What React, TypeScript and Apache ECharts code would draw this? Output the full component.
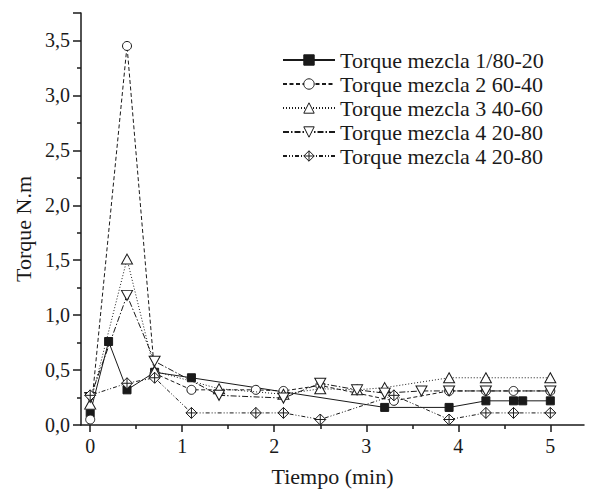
import React, { useEffect, useRef } from "react";
import * as echarts from "echarts";

// Tiempo (min) and Torque (N.m) values
const s1X = [0, 0.2, 0.4, 0.7, 1.1, 3.2, 3.9, 4.3, 4.6, 4.7, 5.0];
const s1Y = [0.11, 0.76, 0.32, 0.48, 0.43, 0.16, 0.16, 0.22, 0.22, 0.22, 0.22];

const s2X = [0, 0.4, 0.7, 1.1, 1.8, 2.1, 2.5, 3.3, 3.9, 4.3, 4.6, 5.0];
const s2Y = [0.05, 3.45, 0.47, 0.32, 0.32, 0.31, 0.36, 0.22, 0.31, 0.31, 0.31, 0.31];

const s3X = [0, 0.4, 0.7, 1.4, 2.1, 2.5, 2.9, 3.2, 3.9, 4.3, 5.0];
const s3Y = [0.19, 1.51, 0.49, 0.33, 0.28, 0.33, 0.32, 0.34, 0.43, 0.43, 0.43];

const s4X = [0, 0.4, 0.7, 1.4, 2.1, 2.5, 2.9, 3.2, 3.6, 3.9, 4.3, 5.0];
const s4Y = [0.25, 1.18, 0.58, 0.27, 0.245, 0.38, 0.32, 0.29, 0.31, 0.31, 0.31, 0.31];

const s5X = [0, 0.4, 0.7, 1.1, 1.8, 2.1, 2.5, 3.3, 3.9, 4.3, 4.6, 5.0];
const s5Y = [0.27, 0.38, 0.43, 0.11, 0.11, 0.11, 0.05, 0.27, 0.05, 0.11, 0.11, 0.11];

const legendLabels = [
  "Torque mezcla 1/80-20",
  "Torque mezcla 2 60-40",
  "Torque mezcla 3 40-60",
  "Torque mezcla 4 20-80",
  "Torque mezcla 4 20-80",
];

const xMajorTicks = [0, 1, 2, 3, 4, 5];
const xMinorTicks = [0.5, 1.5, 2.5, 3.5, 4.5];

const FONT = "Liberation Serif";
const INK = "#1a1a1a";

function pairs(xs: number[], ys: number[]) {
  return xs.map((x, i) => [x, ys[i]]);
}

export default function App() {
  const ref = useRef<HTMLDivElement>(null);
  useEffect(() => {
    if (!ref.current) return;
    const chart = echarts.init(ref.current, undefined, { renderer: "svg" });
    const seriesDefs = [
      { x: s1X, y: s1Y, symbol: "rect", size: 8, fill: INK, dash: "solid" as any },
      { x: s2X, y: s2Y, symbol: "circle", size: 9, fill: "#fff", dash: [4, 2.5] },
      { x: s3X, y: s3Y, symbol: "path://M10,0 L20,17 L0,17 Z", size: [11, 10], fill: "#fff", dash: [1, 2] },
      { x: s4X, y: s4Y, symbol: "path://M0,0 L20,0 L10,17 Z", size: [11, 10], fill: "#fff", dash: [6, 2, 1.5, 2] },
      {
        x: s5X,
        y: s5Y,
        symbol: "path://M10,0 L20,10 L10,20 L0,10 Z M10,0 L10,20 M0,10 L20,10",
        size: 11,
        fill: "#fff",
        dash: [4, 2, 1, 2, 1, 2],
      },
    ];
    const names = ["m1", "m2", "m3", "m4", "m5"];
    chart.setOption({
      animation: false,
      backgroundColor: "#fff",
      textStyle: { fontFamily: FONT, color: INK },
      grid: { left: 81, right: 5, top: 13, bottom: 65 },
      legend: {
        orient: "vertical",
        left: 282,
        top: 49,
        padding: 0,
        itemWidth: 52,
        itemHeight: 13,
        itemGap: 2,
        data: names.map((n, i) => ({
          name: n,
          itemStyle: { color: seriesDefs[i].fill, borderColor: INK, borderWidth: 1 },
        })),
        formatter: (n: string) => legendLabels[names.indexOf(n)],
        textStyle: { fontFamily: FONT, fontSize: 22, color: INK, lineHeight: 22 },
        selectedMode: false,
      },
      xAxis: [
        {
          type: "value",
          min: -0.1,
          max: 5.366,
          name: "Tiempo (min)",
          nameLocation: "middle",
          nameGap: 40,
          nameTextStyle: { fontFamily: FONT, fontSize: 22, color: INK },
          axisLine: { show: true, onZero: false, lineStyle: { color: INK, width: 1.5 } },
          axisTick: { show: true, inside: false, length: 7, customValues: xMajorTicks, lineStyle: { color: INK, width: 1.5 } },
          axisLabel: {
            customValues: xMajorTicks,
            margin: 11,
            fontFamily: FONT,
            fontSize: 20,
            color: INK,
            formatter: (v: number) => String(Math.round(v)),
          },
          splitLine: { show: false },
        },
        {
          type: "value",
          min: -0.1,
          max: 5.366,
          position: "bottom",
          axisLine: { show: false },
          axisTick: { show: true, inside: false, length: 4, customValues: xMinorTicks, lineStyle: { color: INK, width: 1.5 } },
          axisLabel: { show: false },
          splitLine: { show: false },
        },
      ],
      yAxis: {
        type: "value",
        min: 0,
        max: 3.75,
        interval: 0.5,
        name: "Torque N.m",
        nameLocation: "middle",
        nameGap: 44,
        nameTextStyle: { fontFamily: FONT, fontSize: 22, color: INK, padding: [0, 20, 0, 0] },
        axisLine: { show: true, onZero: false, lineStyle: { color: INK, width: 1.5 } },
        axisTick: { show: true, inside: false, length: 8, lineStyle: { color: INK, width: 1.5 } },
        minorTick: { show: true, splitNumber: 2, length: 4, lineStyle: { color: INK, width: 1.5 } },
        axisLabel: {
          margin: 11,
          fontFamily: FONT,
          fontSize: 20,
          color: INK,
          showMaxLabel: false,
          formatter: (v: number) => v.toFixed(1).replace(".", ","),
        },
        splitLine: { show: false },
        minorSplitLine: { show: false },
      },
      series: seriesDefs.map((d, i) => ({
        name: names[i],
        type: "line",
        xAxisIndex: 0,
        data: pairs(d.x, d.y),
        symbol: d.symbol,
        symbolSize: d.size,
        showAllSymbol: true,
        clip: false,
        lineStyle: { color: INK, width: 1, type: d.dash },
        itemStyle: { color: d.fill, borderColor: INK, borderWidth: 1 },
        z: 2 + i,
      })),
    });
    return () => chart.dispose();
  }, []);
  return (
    <div
      ref={ref}
      style={{ position: "fixed", left: 0, top: 0, width: 589, height: 492, background: "#fff" }}
    />
  );
}
